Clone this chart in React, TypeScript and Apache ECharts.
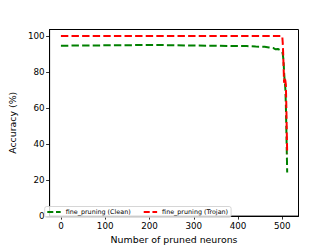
import React, { useEffect, useRef } from "react";
import * as echarts from "echarts";

const cleanX = [0, 50, 100, 150, 200, 250, 300, 350, 400, 420, 440, 460, 470, 480, 485, 490, 495, 498, 500, 501, 502, 503, 504, 505, 506, 507, 508, 509, 510, 511];
const cleanY = [94.6, 94.7, 94.8, 94.9, 95.0, 94.9, 94.7, 94.6, 94.4, 94.4, 94.1, 94.0, 93.6, 93.3, 92.6, 92.8, 92.1, 91.6, 91.0, 90.0, 88.0, 85.0, 80.0, 76.0, 74.0, 70.0, 62.0, 50.0, 37.0, 24.2];
const trojanX = [0, 100, 200, 300, 400, 499, 500, 501, 502, 503, 504, 505, 506, 507, 508, 509, 510, 511];
const trojanY = [100, 100, 100, 100, 100, 100, 99.5, 96, 90, 82, 74, 77, 77, 75, 73, 62, 48, 34.5];
const xTicks = [0, 100, 200, 300, 400, 500];
const yTicks = [0, 20, 40, 60, 80, 100];
const seriesNames = ["fine_pruning (Clean)", "fine_pruning (Trojan)"];

const FONT = "DejaVu Sans";
const DASH_ICON = "path://M0 0H6V2H0Z M8.7 0H13.4V2H8.7Z";

export default function App() {
  const ref = useRef<HTMLDivElement>(null);
  useEffect(() => {
    if (!ref.current) return;
    const chart = echarts.init(ref.current, null, { renderer: "svg" });
    const clean = cleanX.map((x, i) => [x, cleanY[i]]);
    const trojan = trojanX.map((x, i) => [x, trojanY[i]]);
    chart.setOption({
      animation: false,
      backgroundColor: "#ffffff",
      grid: {
        left: 41.5,
        top: 29.5,
        right: 33.5,
        bottom: 28,
        show: true,
        borderColor: "#000",
        borderWidth: 1,
        backgroundColor: "transparent",
      },
      legend: {
        left: 44.7,
        top: 206.5,
        orient: "horizontal",
        itemWidth: 13.4,
        itemHeight: 2,
        itemGap: 13,
        padding: [2.4, 3, 2.4, 2.6],
        borderColor: "#cccccc",
        borderWidth: 0.8,
        borderRadius: 2,
        backgroundColor: "rgba(255,255,255,0.8)",
        textStyle: { fontFamily: FONT, fontSize: 6.4, color: "#000" },
        data: [
          { name: seriesNames[0], icon: DASH_ICON },
          { name: seriesNames[1], icon: DASH_ICON },
        ],
      },
      xAxis: {
        type: "value",
        min: -25.55,
        max: 536.55,
        name: "Number of pruned neurons",
        nameLocation: "middle",
        nameGap: 15,
        nameTextStyle: { fontFamily: FONT, fontSize: 9.4, color: "#000" },
        splitLine: { show: false },
        axisLine: { show: true, onZero: false, lineStyle: { color: "#000", width: 1 } },
        axisTick: { show: true, length: 3.5, lineStyle: { color: "#000", width: 0.8 }, customValues: xTicks },
        axisLabel: { fontFamily: FONT, fontSize: 8.75, color: "#000", margin: 5, customValues: xTicks },
      },
      yAxis: {
        type: "value",
        min: 0,
        max: 103.6,
        name: "Accuracy (%)",
        nameLocation: "middle",
        nameGap: 25,
        nameRotate: 90,
        nameTextStyle: { fontFamily: FONT, fontSize: 9.4, color: "#000" },
        splitLine: { show: false },
        axisLine: { show: true, onZero: false, lineStyle: { color: "#000", width: 1 } },
        axisTick: { show: true, length: 3.5, lineStyle: { color: "#000", width: 0.8 }, customValues: yTicks },
        axisLabel: { fontFamily: FONT, fontSize: 8.75, color: "#000", margin: 5, customValues: yTicks },
      },
      series: [
        {
          name: seriesNames[0],
          type: "line",
          data: clean,
          symbol: "none",
          color: "#008000",
          lineStyle: { color: "#008000", width: 2, type: [7.4, 3.2] },
          z: 2,
        },
        {
          name: seriesNames[1],
          type: "line",
          data: trojan,
          symbol: "none",
          color: "#ff0000",
          lineStyle: { color: "#ff0000", width: 2, type: [7.4, 3.2] },
          z: 3,
        },
      ],
    });
    return () => chart.dispose();
  }, []);
  return (
    <div
      ref={ref}
      style={{ position: "fixed", left: 0, top: 0, width: 332, height: 249, background: "#fff" }}
    />
  );
}
